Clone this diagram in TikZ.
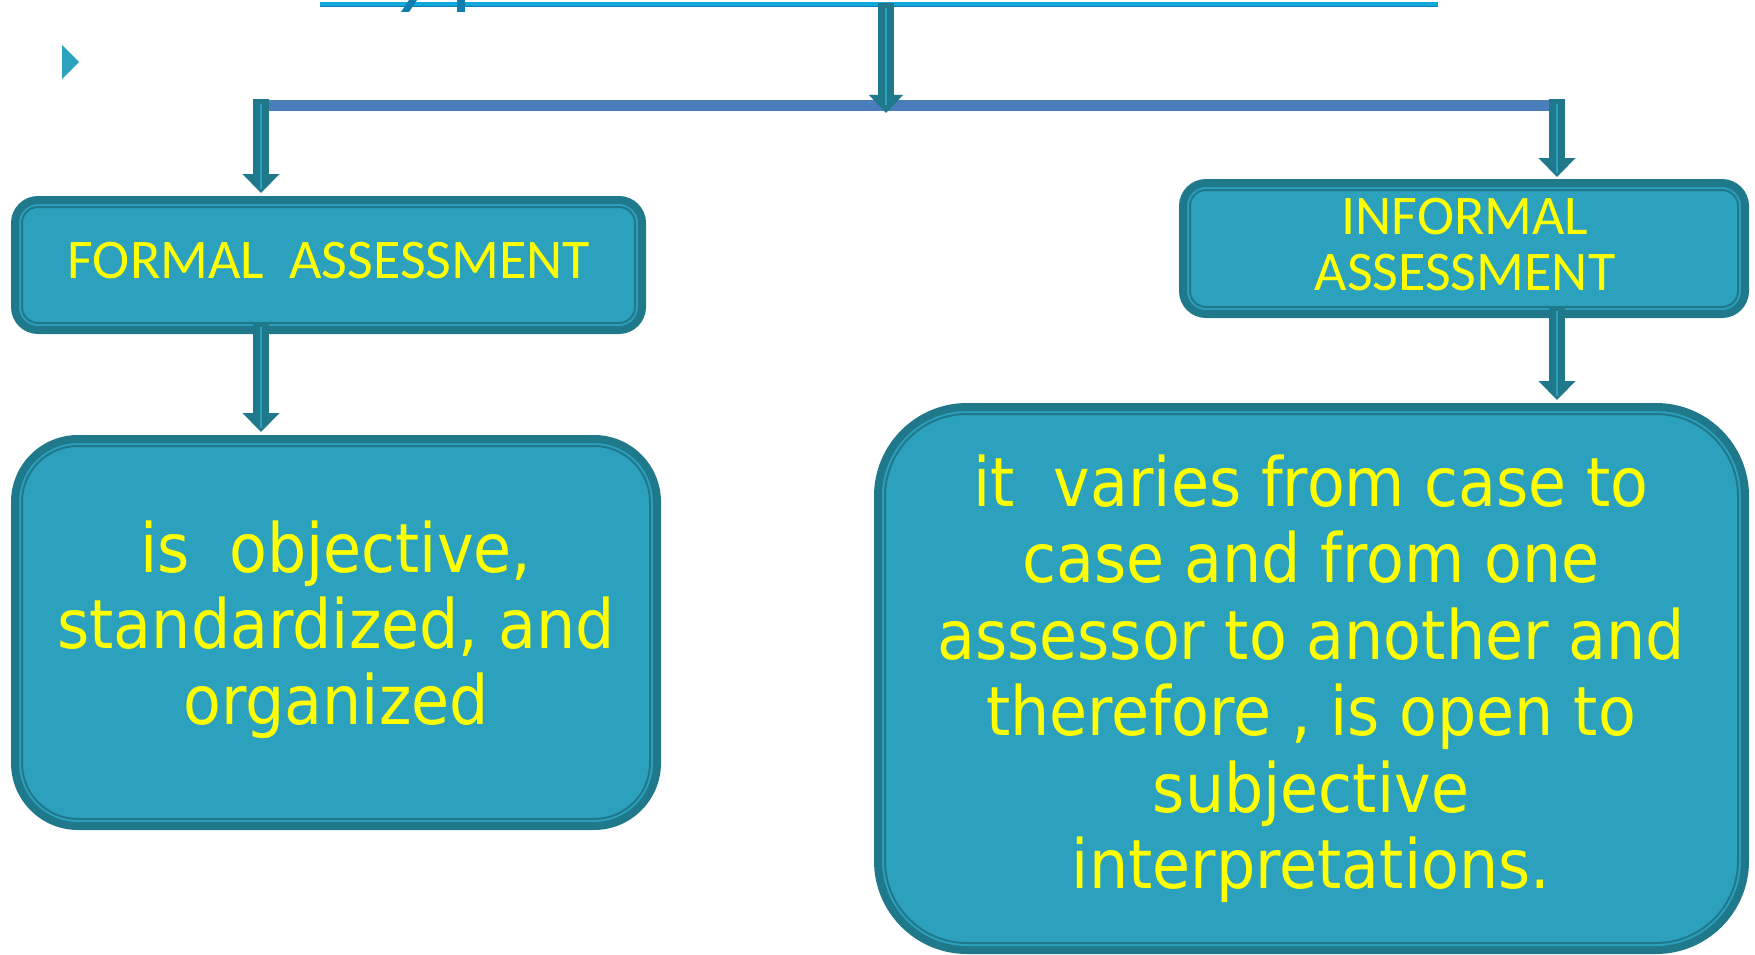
\documentclass[tikz,border=0pt]{standalone}
\usepackage{fontspec}
\usetikzlibrary{arrows.meta,calc}
\newfontfamily\labfont{Carlito}
\newfontfamily\bodyfont[FakeStretch=0.91]{DejaVu Sans}
\definecolor{boxfill}{RGB}{43,161,190}
\definecolor{boxline}{RGB}{31,121,139}
\definecolor{txt}{RGB}{255,255,0}
\definecolor{barblue}{RGB}{74,126,186}
\definecolor{topblue}{RGB}{18,168,220}
\definecolor{topdark}{RGB}{14,125,175}
\begin{document}
\begin{tikzpicture}[x=1pt,y=-1pt,
  box/.style={draw=boxline, fill=boxfill, line width=8pt, outer sep=0pt, inner sep=0pt},
  innerline/.style={draw=boxline, line width=2pt},
  lab/.style={font=\labfont\fontsize{56}{56}\selectfont, text=txt, anchor=base, inner sep=0pt},
  body/.style={font=\bodyfont\fontsize{68}{76}\selectfont, text=txt, anchor=base, inner sep=0pt},
  blockarrow/.style={draw=boxline, line width=16pt, -{Triangle[width=36pt,length=19pt]}},
  core/.style={draw=boxfill, line width=1.5pt},
]
\useasboundingbox (0,0) rectangle (1755,955);

% bullet
\fill[boxfill] (62,45) -- (62,79) -- (79,62) -- cycle;

% top line (with clipped descenders above)
\coordinate (topL) at (320,4);
\coordinate (topR) at (1438,4);
\draw[topblue, line width=4pt] (topL) -- (topR);
\draw[topdark, line width=1.5pt] ($(topL)+(0,2.5)$) -- ($(topR)+(0,2.5)$);
\fill[topdark] (409,0) -- (417,0) -- (409,12) -- (401,12) -- cycle;
\fill[topdark] (457,0) rectangle (465,12);

% boxes
\node[box, minimum width=627pt, minimum height=130pt, rounded corners=23pt] (formal) at (328.5,265) {};
\draw[innerline, rounded corners=16pt] ($(formal.north west)+(7,7)$) rectangle ($(formal.south east)+(-7,-7)$);

\node[box, minimum width=562pt, minimum height=131pt, rounded corners=23pt] (informal) at (1464,248.5) {};
\draw[innerline, rounded corners=16pt] ($(informal.north west)+(7,7)$) rectangle ($(informal.south east)+(-7,-7)$);

\node[box, minimum width=642pt, minimum height=387pt, rounded corners=63pt] (ftext) at (336,632.5) {};
\draw[innerline, rounded corners=56pt] ($(ftext.north west)+(7,7)$) rectangle ($(ftext.south east)+(-7,-7)$);

\node[box, minimum width=867pt, minimum height=543pt, rounded corners=89pt] (itext) at (1311.5,678.5) {};
\draw[innerline, rounded corners=82pt] ($(itext.north west)+(7,7)$) rectangle ($(itext.south east)+(-7,-7)$);

% texts
\node[lab] (flab) at (329,278) {FORMAL\ \ ASSESSMENT};
\node[lab] (ilab1) at (1465,234) {INFORMAL};
\node[lab] (ilab2) at (1465,290) {ASSESSMENT};

\node[body] (f1) at (336,572) {is\ \ objective,};
\node[body] (f2) at (336,648) {standardized, and};
\node[body] (f3) at (336,724) {organized};

\node[body] (i1) at (1311,506) {it\ \ varies from case to};
\node[body] (i2) at (1311,582) {case and from one};
\node[body] (i3) at (1311,659) {assessor to another and};
\node[body] (i4) at (1311,735) {therefore , is open to};
\node[body] (i5) at (1311,812) {subjective};
\node[body] (i6) at (1311,888) {interpretations.};

% connectors
\coordinate (barL) at (261,99);
\coordinate (barR) at (1557,99);
\coordinate (topc) at (886,3);
\coordinate (hub) at (886,113);

\draw[barblue, line width=11pt] ($(barL)+(0,6.5)$) -- ($(barR)+(0,6.5)$);

\draw[blockarrow, -{Triangle[width=33pt,length=18pt]}] (topc) -- (hub);
\draw[core] ($(topc)+(0,5)$) -- ($(hub)+(0,-8)$);

\draw[blockarrow, shorten >=7pt] (barL) -- (barL |- formal.north);
\draw[core] ($(barL)+(0,5)$) -- ($(barL |- formal.north)+(0,-11)$);

\draw[blockarrow, shorten >=6pt] (barR) -- (barR |- informal.north);
\draw[core] ($(barR)+(0,5)$) -- ($(barR |- informal.north)+(0,-10)$);

\draw[blockarrow, shorten >=7pt] ($(barL |- formal.south)+(0,-7)$) -- (barL |- ftext.north);
\draw[core] ($(barL |- formal.south)+(0,-3)$) -- ($(barL |- ftext.north)+(0,-11)$);

\draw[blockarrow, shorten >=7pt] ($(barR |- informal.south)+(0,-7)$) -- (barR |- itext.north);
\draw[core] ($(barR |- informal.south)+(0,-3)$) -- ($(barR |- itext.north)+(0,-11)$);
\end{tikzpicture}
\end{document}
